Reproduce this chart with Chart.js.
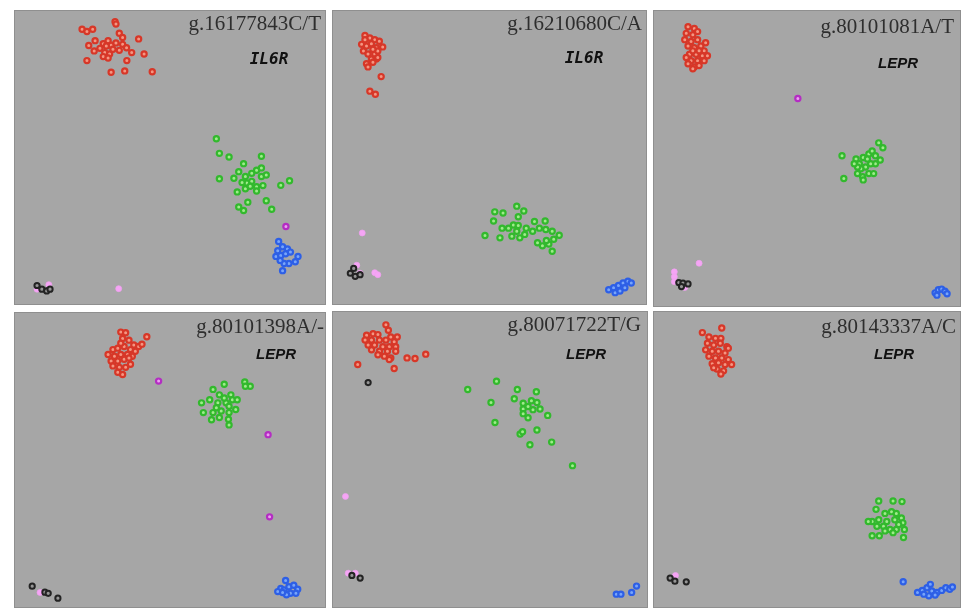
<!DOCTYPE html>
<html>
<head>
<meta charset="utf-8">
<script src="https://cdn.jsdelivr.net/npm/chart.js@4"></script>
<style>
  body { margin: 0; background: #fff; width: 961px; height: 608px; overflow: hidden; }
  .panel { position: absolute; background: #a6a6a6; box-sizing: border-box; border: 1px solid #8f8f8f; }
  .panel canvas { position: absolute; left: 0; top: 0; }
  .snp { position: absolute; font: 21px "Liberation Serif", "Times New Roman", serif; color: #2e2e2e; line-height: 21px; white-space: nowrap; }
  .gene { position: absolute; font: italic bold 15px "Liberation Sans", Arial, sans-serif; color: #111; transform: translate(-50%, -50%); white-space: nowrap; }
  .gene.mono { font: italic bold 16px "DejaVu Sans Mono", monospace; }
</style>
</head>
<body>
<script>
// SNP names and genes
const snpNames = ["g.16177843C/T", "g.16210680C/A", "g.80101081A/T", "g.80101398A/-", "g.80071722T/G", "g.80143337A/C"];
const geneNames = ["IL6R", "IL6R", "LEPR", "LEPR", "LEPR", "LEPR"];

// panel 1 (x = allele 1 signal, y = allele 2 signal, 0..100)
const p1Red = [[20.6,95.3],[22.2,94.5],[24.1,95.3],[31.5,97.9],[31.8,97.1],[32.9,93.9],[39.3,91.9],[24.9,91.3],[22.8,89.6],[27.6,90.2],[29.2,91.3],[30.2,89.7],[31.8,90.5],[34.0,90.0],[26.5,88.6],[28.1,87.1],[29.7,86.6],[30.8,88.3],[24.6,87.7],[32.9,87.9],[35.3,88.8],[37.0,87.1],[27.6,85.7],[29.2,85.2],[35.4,84.3],[22.2,84.3],[30.2,80.2],[34.7,80.7],[43.8,80.4],[41.1,86.6],[34.0,92.4],[28.6,89.4]];
const p1Green = [[65.0,56.9],[66.0,51.8],[69.2,50.5],[74.0,48.2],[79.9,50.8],[66.0,42.9],[70.8,43.1],[72.4,45.4],[74.6,43.7],[76.7,44.8],[78.3,45.9],[79.9,46.7],[79.9,43.7],[81.5,44.2],[75.1,41.4],[76.7,42.0],[78.3,40.1],[80.4,40.5],[74.6,39.4],[71.9,38.3],[78.3,38.6],[86.3,40.6],[89.2,42.2],[75.4,34.7],[72.4,33.0],[74.0,31.8],[81.5,35.2],[83.3,32.2],[73.5,41.6],[76.2,40.3]];
const p1Blue = [[85.6,20.9],[85.3,17.7],[86.9,19.1],[88.5,18.3],[84.7,15.7],[86.3,16.0],[87.9,16.6],[89.5,17.2],[92.0,15.7],[91.1,13.8],[89.0,13.2],[87.4,13.2],[86.9,10.7],[86.1,14.3]];
const p1Purple = [[88.0,26.2]];
const p1Black = [[5.7,5.5],[7.3,4.2],[8.9,3.6],[10.0,4.2]];
const p1Pink = [[5.7,4.2],[9.6,5.8],[32.7,4.4]];

// panel 2
const p2Red = [[8.9,93.1],[10.5,92.2],[12.1,91.6],[13.6,91.1],[7.8,90.0],[9.4,89.4],[11.0,90.2],[12.6,88.8],[14.7,89.1],[8.4,87.7],[9.9,86.6],[12.1,86.6],[13.1,87.7],[11.0,84.9],[12.6,84.9],[9.4,83.2],[11.5,83.7],[9.9,82.1],[14.2,78.7],[10.5,73.6],[12.3,72.5],[13.1,85.4],[11.5,88.3],[8.9,91.6]];
const p2Green = [[48.2,23.0],[51.0,28.1],[51.4,31.3],[54.1,30.9],[53.8,25.6],[53.1,22.2],[58.6,33.3],[60.9,31.6],[59.1,29.6],[57.5,26.7],[58.6,24.5],[57.0,22.8],[59.6,22.2],[61.2,23.4],[61.7,25.6],[64.4,27.9],[67.9,28.1],[66.0,25.6],[68.1,25.1],[70.2,24.5],[72.5,23.1],[70.7,21.7],[69.1,20.0],[67.0,19.4],[65.4,20.5],[70.2,17.5],[55.9,25.6],[59.1,26.5],[68.3,21.3],[63.8,24.5]];
const p2Blue = [[88.7,4.0],[90.3,4.7],[91.9,5.5],[93.4,6.4],[95.0,7.0],[96.1,6.4],[90.8,3.0],[92.4,3.6],[94.0,4.7]];
const p2Purple = [];
const p2Black = [[4.1,9.8],[5.7,8.7],[7.3,9.3],[5.2,11.5]];
const p2Pink = [[8.0,23.9],[6.2,12.6],[7.3,9.8],[12.1,10.0],[13.1,9.3]];

// panel 3
const p3Red = [[9.8,96.2],[11.9,95.6],[9.2,93.9],[11.4,93.4],[13.0,94.5],[8.7,91.7],[10.8,91.1],[13.0,91.7],[9.8,89.5],[11.9,88.9],[14.1,89.5],[15.2,87.8],[10.3,86.6],[12.5,86.6],[14.6,86.1],[16.3,86.1],[10.8,84.4],[13.0,84.4],[15.2,84.4],[11.9,82.2],[9.8,83.3],[13.5,82.7],[11.4,87.8],[13.5,87.8],[9.2,85.5],[15.7,90.6],[11.4,81.6]];
const p3Green = [[61.4,51.3],[62.0,43.4],[66.1,50.2],[67.2,48.5],[68.5,50.7],[70.4,51.9],[71.5,53.0],[73.7,55.8],[75.1,54.1],[74.2,49.8],[72.6,48.5],[71.0,48.5],[69.3,47.4],[67.7,46.8],[66.6,45.1],[68.3,44.0],[70.4,45.1],[72.0,45.1],[66.6,47.4],[69.9,50.2],[72.6,51.3],[65.5,48.5],[68.5,42.9]];
const p3Blue = [[92.6,3.6],[93.7,4.7],[94.8,4.9],[95.9,4.2],[96.6,3.3],[93.2,2.8]];
const p3Purple = [[46.6,71.2]];
const p3Black = [[6.7,7.2],[8.1,7.0],[9.8,6.7],[7.6,5.8]];
const p3Pink = [[13.5,13.9],[5.2,10.9],[5.2,9.2],[5.2,7.5],[8.7,5.5]];

// panel 4
const p4Red = [[33.4,95.0],[35.0,94.8],[42.0,93.4],[34.0,92.8],[36.1,92.2],[37.7,90.5],[39.3,90.0],[40.4,90.8],[30.8,88.9],[32.4,89.4],[34.5,90.0],[36.6,88.9],[38.2,88.3],[29.2,87.2],[31.3,86.6],[33.4,87.2],[35.6,87.2],[37.2,86.6],[30.2,84.9],[32.4,84.9],[34.5,85.5],[36.6,83.8],[30.8,83.2],[32.9,82.7],[35.0,82.7],[32.4,81.0],[34.0,80.2],[33.4,91.1],[36.1,86.0]];
const p4Green = [[74.4,77.6],[76.2,76.1],[74.6,76.1],[67.6,76.8],[63.9,75.0],[66.0,73.1],[69.8,73.1],[60.1,70.3],[62.8,71.4],[65.5,70.3],[68.2,70.3],[70.3,71.4],[71.9,71.4],[69.2,69.1],[71.4,68.0],[60.7,66.9],[63.9,66.9],[66.6,67.5],[69.2,66.9],[63.4,64.4],[66.0,65.2],[69.0,64.6],[69.2,62.6],[65.0,68.6],[67.6,72.0]];
const p4Blue = [[87.9,8.3],[86.3,5.5],[85.3,4.4],[87.4,5.0],[89.0,6.1],[90.6,6.6],[91.9,5.2],[89.5,3.8],[91.3,3.8],[88.2,3.3],[86.9,4.1]];
const p4Purple = [[45.9,77.9],[82.1,59.2],[82.6,30.5]];
const p4Black = [[4.1,6.3],[8.3,4.2],[9.4,3.8],[12.6,2.1]];
const p4Pink = [[6.7,4.1]];

// panel 5
const p5Red = [[15.7,97.2],[16.5,95.3],[9.4,93.6],[11.5,94.1],[13.1,93.8],[17.3,93.0],[19.4,93.0],[8.9,91.9],[11.0,91.9],[13.6,91.9],[15.7,91.9],[18.4,91.3],[9.9,90.2],[12.0,90.2],[14.7,89.6],[16.8,89.6],[18.9,89.6],[11.0,88.5],[13.6,88.0],[16.2,88.0],[18.9,88.0],[13.1,86.8],[15.2,86.3],[17.3,85.7],[22.6,85.7],[25.2,85.5],[28.7,87.0],[6.5,83.4],[18.4,82.0],[16.8,85.1]];
const p5Green = [[51.8,77.6],[42.4,74.7],[50.0,70.2],[51.3,63.2],[58.6,74.7],[57.6,71.5],[64.8,73.9],[60.5,69.9],[60.5,67.9],[63.2,70.8],[65.0,70.2],[63.7,67.7],[66.0,67.9],[60.5,66.3],[62.1,64.9],[68.5,65.7],[59.5,59.2],[60.3,60.0],[65.0,60.6],[62.7,55.5],[69.8,56.4],[76.6,48.2],[62.1,68.8]];
const p5Blue = [[90.9,3.5],[92.4,3.5],[95.9,4.1],[97.5,6.3]];
const p5Purple = [];
const p5Black = [[9.9,77.1],[7.3,9.1],[4.6,10.0]];
const p5Pink = [[2.5,37.5],[3.4,10.8],[5.7,10.8]];

// panel 6
const p6Red = [[21.1,96.1],[14.6,94.5],[16.8,93.0],[19.0,92.5],[20.8,92.5],[16.3,90.8],[18.4,90.2],[20.6,90.8],[22.8,89.6],[23.3,89.1],[15.7,88.5],[17.9,88.0],[20.0,88.0],[22.2,87.4],[16.8,86.3],[19.0,85.7],[21.1,85.7],[23.3,85.1],[17.9,83.7],[20.0,84.0],[22.2,83.4],[24.4,83.4],[19.5,81.8],[21.7,81.2],[20.8,80.1],[18.4,82.3]];
const p6Green = [[73.7,35.9],[78.5,35.9],[81.5,35.7],[72.8,33.0],[75.8,31.6],[78.0,32.2],[79.6,31.6],[81.3,30.0],[71.5,28.8],[73.7,29.4],[76.4,28.8],[79.1,29.4],[81.8,28.3],[70.2,28.8],[73.1,27.1],[75.3,27.1],[77.5,26.0],[79.6,26.0],[82.3,26.0],[73.9,23.8],[71.5,23.8],[78.5,24.9],[82.0,23.2],[75.8,25.5],[80.4,27.7]];
const p6Blue = [[81.9,7.8],[86.7,4.1],[88.3,4.8],[89.9,5.7],[91.0,6.9],[91.5,4.6],[93.2,4.1],[94.8,4.8],[96.2,5.7],[97.5,5.2],[98.4,6.0],[92.6,3.2],[90.5,2.9],[88.8,3.5]];
const p6Purple = [];
const p6Black = [[3.8,9.1],[5.4,8.0],[9.2,7.8]];
const p6Pink = [[5.6,10.0]];

const panelData = [
    [p1Red, p1Green, p1Blue, p1Purple, p1Black, p1Pink],
    [p2Red, p2Green, p2Blue, p2Purple, p2Black, p2Pink],
    [p3Red, p3Green, p3Blue, p3Purple, p3Black, p3Pink],
    [p4Red, p4Green, p4Blue, p4Purple, p4Black, p4Pink],
    [p5Red, p5Green, p5Blue, p5Purple, p5Black, p5Pink],
    [p6Red, p6Green, p6Blue, p6Purple, p6Black, p6Pink]
];

// layout of the 6 boxes
const boxes = [
    { left: 14, top: 10, w: 312, h: 295, snpRight: 4, snpTop: 2, gx: 254, gy: 47, mono: true },
    { left: 332, top: 10, w: 315, h: 295, snpRight: 4, snpTop: 2, gx: 251, gy: 46, mono: true },
    { left: 653, top: 10, w: 308, h: 297, snpRight: 6, snpTop: 5, gx: 244, gy: 51, mono: false },
    { left: 14, top: 312, w: 312, h: 296, snpRight: 1, snpTop: 3, gx: 261, gy: 40, mono: false },
    { left: 332, top: 311, w: 316, h: 297, snpRight: 6, snpTop: 2, gx: 253, gy: 41, mono: false },
    { left: 653, top: 311, w: 308, h: 297, snpRight: 4, snpTop: 4, gx: 240, gy: 41, mono: false }
];

const groupStyles = [
    { fill: "rgb(245,150,130)", border: "rgb(215,55,40)", r: 2.6, bw: 2.2 },
    { fill: "rgb(160,235,140)", border: "rgb(50,185,45)", r: 2.6, bw: 2.2 },
    { fill: "rgb(120,165,250)", border: "rgb(45,95,230)", r: 2.6, bw: 2.2 },
    { fill: "rgb(235,160,240)", border: "rgb(180,45,195)", r: 2.6, bw: 2.2 },
    { fill: "rgb(150,150,150)", border: "rgb(35,35,35)", r: 2.6, bw: 2 },
    { fill: "rgb(245,165,245)", border: "rgba(240,160,240,0.7)", r: 3, bw: 1 }
];

const drawPanel = (i) => {
    const b = boxes[i];
    const div = document.createElement("div");
    div.className = "panel";
    div.style.cssText = `left:${b.left}px;top:${b.top}px;width:${b.w}px;height:${b.h}px;`;
    const canvas = document.createElement("canvas");
    canvas.width = b.w;
    canvas.height = b.h;
    canvas.style.width = b.w + "px";
    canvas.style.height = b.h + "px";
    div.appendChild(canvas);

    const snp = document.createElement("div");
    snp.className = "snp";
    snp.style.right = b.snpRight + "px";
    snp.style.top = b.snpTop + "px";
    snp.textContent = snpNames[i];
    div.appendChild(snp);

    const gene = document.createElement("div");
    gene.className = b.mono ? "gene mono" : "gene";
    gene.style.left = b.gx + "px";
    gene.style.top = b.gy + "px";
    gene.textContent = geneNames[i];
    div.appendChild(gene);

    document.body.appendChild(div);

    new Chart(canvas.getContext("2d"), {
        type: "scatter",
        data: {
            datasets: panelData[i].map((pts, k) => ({
                data: pts.map(p => ({ x: p[0], y: p[1] })),
                backgroundColor: groupStyles[k].fill,
                borderColor: groupStyles[k].border,
                pointRadius: groupStyles[k].r,
                borderWidth: groupStyles[k].bw,
                pointHoverRadius: groupStyles[k].r,
                clip: false
            }))
        },
        options: {
            responsive: false,
            animation: false,
            layout: { padding: 0 },
            scales: {
                x: { type: "linear", min: 0, max: 100, display: false },
                y: { type: "linear", min: 0, max: 100, display: false }
            },
            plugins: {
                legend: { display: false },
                tooltip: { enabled: false }
            }
        }
    });
};

snpNames.forEach((_, i) => drawPanel(i));
</script>
</body>
</html>
